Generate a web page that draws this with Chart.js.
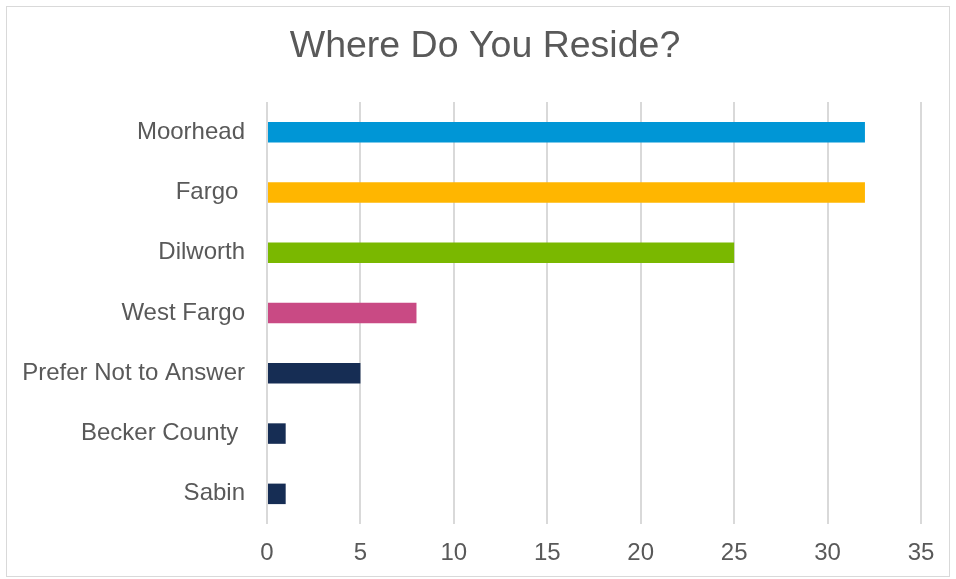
<!doctype html>
<html>
<head>
	<title>Where Do You Reside?</title>
	<script src="https://cdn.jsdelivr.net/npm/chart.js@4"></script>
	<style>
	html, body { margin: 0; padding: 0; background: #fff; }
	.frame {
		position: absolute;
		left: 6px; top: 6px;
		width: 944px; height: 571px;
		border: 1px solid #d9d9d9;
		box-sizing: border-box;
	}
	.chart-container {
		position: absolute;
		left: 0; top: 0;
		width: 956px; height: 579px;
	}
	</style>
</head>
<body>
	<div class="frame"></div>
	<div class="chart-container"><canvas id="chart"></canvas></div>
	<script>
		var chartTitle = 'Where Do You Reside?';
		var categories = ['Moorhead', 'Fargo ', 'Dilworth', 'West Fargo', 'Prefer Not to Answer', 'Becker County ', 'Sabin'];
		var counts = [32, 32, 25, 8, 5, 1, 1];
		var barColors = ['#0096d6', '#ffb600', '#7ab800', '#c94a84', '#162d54', '#162d54', '#162d54'];
		var xTicks = [0, 5, 10, 15, 20, 25, 30, 35];

		var textColor = '#595959';
		var gridColor = '#d9d9d9';
		var fontFamily = 'Liberation Sans, Arial, sans-serif';

		// the title sits a little right of the canvas centre, so it is drawn by hand
		var titlePlugin = {
			id: 'offsetTitle',
			afterDraw: function(chart) {
				var ctx = chart.ctx;
				ctx.save();
				ctx.fillStyle = textColor;
				ctx.font = '37.5px ' + fontFamily;
				ctx.textAlign = 'center';
				ctx.textBaseline = 'middle';
				ctx.fillText(chartTitle, 485, 47);
				ctx.restore();
			}
		};

		window.onload = function() {
			var ctx = document.getElementById('chart').getContext('2d');
			new Chart(ctx, {
				type: 'bar',
				data: {
					labels: categories,
					datasets: [{
						data: counts,
						backgroundColor: barColors,
						borderWidth: 0,
						barPercentage: 0.34,
						categoryPercentage: 1
					}]
				},
				options: {
					indexAxis: 'y',
					responsive: true,
					maintainAspectRatio: false,
					animation: false,
					layout: {
						padding: { left: 0, right: 35, top: 102, bottom: 0 }
					},
					plugins: {
						legend: { display: false },
						tooltip: { enabled: false },
						title: { display: false }
					},
					scales: {
						x: {
							min: 0,
							max: 35,
							afterBuildTicks: function(axis) {
								axis.ticks = xTicks.map(function(v) { return { value: v }; });
							},
							afterFit: function(axis) { axis.height = 55; },
							grid: { color: gridColor, lineWidth: 2, drawTicks: false },
							border: { display: false },
							ticks: {
								color: textColor,
								padding: 15,
								font: { family: fontFamily, size: 24 }
							}
						},
						y: {
							grid: { display: false, drawTicks: false },
							border: { display: false },
							afterFit: function(axis) { axis.width = 267; },
							ticks: {
								color: textColor,
								padding: 22,
								font: { family: fontFamily, size: 24 }
							}
						}
					}
				},
				plugins: [titlePlugin]
			});
		};
	</script>
</body>
</html>
